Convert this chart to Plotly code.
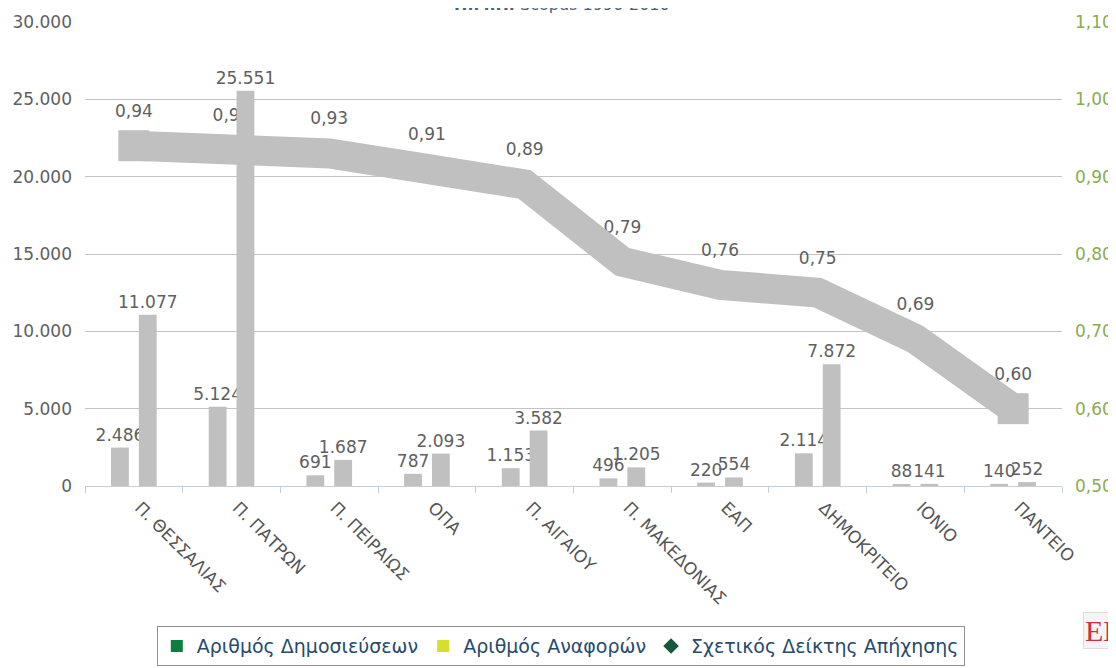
import plotly.graph_objects as go

# ---- data ----
categories = ["Π. ΘΕΣΣΑΛΙΑΣ", "Π. ΠΑΤΡΩΝ", "Π. ΠΕΙΡΑΙΩΣ", "ΟΠΑ", "Π. ΑΙΓΑΙΟΥ",
              "Π. ΜΑΚΕΔΟΝΙΑΣ", "ΕΑΠ", "ΔΗΜΟΚΡΙΤΕΙΟ", "ΙΟΝΙΟ", "ΠΑΝΤΕΙΟ"]
publications = [2486, 5124, 691, 787, 1153, 496, 220, 2114, 88, 140]
citations = [11077, 25551, 1687, 2093, 3582, 1205, 554, 7872, 141, 252]
impact = [0.94, 0.935, 0.93, 0.91, 0.89, 0.79, 0.76, 0.75, 0.69, 0.60]
series_names = ["Αριθμός Δημοσιεύσεων", "Αριθμός Αναφορών", "Σχετικός Δείκτης Απήχησης"]
legend_colors = ["#0a7f3f", "#d4e02b", "#14593d"]
left_ticks = [0, 5000, 10000, 15000, 20000, 25000, 30000]
right_ticks = [0.5, 0.6, 0.7, 0.8, 0.9, 1.0, 1.1]

GRAY = "#c0c0c0"
LABEL = "#606060"
FONT = "DejaVu Sans"

fig = go.Figure()

# line labels (drawn first, under the line)
fig.add_trace(go.Scatter(
    x=categories, y=impact, mode="markers+text", yaxis="y",
    marker=dict(size=38, color="rgba(0,0,0,0)"),
    texttemplate="%{y:.2f}", textposition="top center",
    textfont=dict(family=FONT, size=17, color=LABEL),
    showlegend=False, hoverinfo="skip", cliponaxis=False))

# thick line with square ends
end_sizes = [31] + [0] * (len(impact) - 2) + [31]
fig.add_trace(go.Scatter(
    x=categories, y=impact, mode="lines+markers", yaxis="y",
    line=dict(color=GRAY, width=30),
    marker=dict(symbol="square", size=end_sizes, color=GRAY, opacity=1,
                line=dict(width=0)),
    showlegend=False, name=series_names[2], cliponaxis=False))

# bars (on overlaying axis so they are drawn above the line)
for vals, nm in [(publications, series_names[0]), (citations, series_names[1])]:
    fig.add_trace(go.Bar(
        x=categories, y=vals, yaxis="y2", name=nm,
        marker=dict(color=GRAY, line=dict(width=0)),
        texttemplate="%{y:,.0f}", textposition="outside",
        constraintext="none", cliponaxis=False,
        textfont=dict(family=FONT, size=17, color=LABEL),
        showlegend=False))

# legend entries
symbols = ["square", "square", "diamond"]
for i, (nm, col, sym) in enumerate(zip(series_names, legend_colors, symbols)):
    fig.add_trace(go.Scatter(
        x=[None], y=[None], mode="markers", name=nm, legendgroup=f"g{i}",
        marker=dict(symbol=sym, size=17, color=col), showlegend=True))

# the page body has an 8px margin, so the figure is 8px smaller than the window
fig.update_layout(
    width=1108, height=660, autosize=False,
    margin=dict(l=77, r=54, t=14, b=182, autoexpand=False),
    paper_bgcolor="white", plot_bgcolor="white",
    separators=",.",
    barmode="group", bargap=0.43, bargroupgap=0.36,
    font=dict(family=FONT, size=15, color=LABEL),
    xaxis=dict(
        type="category", range=[-0.5, 9.5], tickangle=45,
        tickson="boundaries", ticks="outside", ticklen=6, tickcolor="#c0d0e0",
        showline=True, linecolor="#c0d0e0", linewidth=1, showgrid=False,
        automargin=False, ticklabelshift=6, ticklabelstandoff=4,
        tickfont=dict(family=FONT, size=17, color="#555555")),
    yaxis=dict(
        side="right", range=[0.5, 1.1], tickvals=right_ticks, tickformat=".2f",
        showgrid=True, gridcolor="#c4c4c4", gridwidth=1, zeroline=False,
        ticklabelstandoff=12, automargin=False,
        tickfont=dict(family=FONT, size=17, color="#8bab4f")),
    yaxis2=dict(
        side="left", overlaying="y", range=[0, 30000], tickvals=left_ticks,
        tickformat=",.0f", showgrid=False, zeroline=False,
        ticklabelstandoff=12, automargin=False,
        tickfont=dict(family=FONT, size=17, color=LABEL)),
    legend=dict(
        orientation="h", x=0.487, xanchor="center", y=-0.302, yanchor="top",
        bordercolor="#909090", borderwidth=1, bgcolor="white",
        font=dict(family=FONT, size=19, color="#274b6d"),
        tracegroupgap=14, itemsizing="constant"),
    annotations=[
        dict(text="<b>Π.Μ.Π.</b> Scopus 1996-2010", xref="paper", yref="paper",
             x=0.488, y=1.013, xanchor="center", yanchor="bottom", showarrow=False,
             font=dict(family=FONT, size=16, color="#4d5f75")),
        dict(text="ΕΚΤ", xref="paper", yref="paper",
             x=(1083 - 85) / 977, y=(486 - 612) / 464, xanchor="left", yanchor="top",
             showarrow=False, bgcolor="#f4f4f4", bordercolor="#dddddd", borderwidth=1,
             font=dict(family="Liberation Serif", size=30, color="#d0303e")),
    ],
)

fig.write_html("out.html")
